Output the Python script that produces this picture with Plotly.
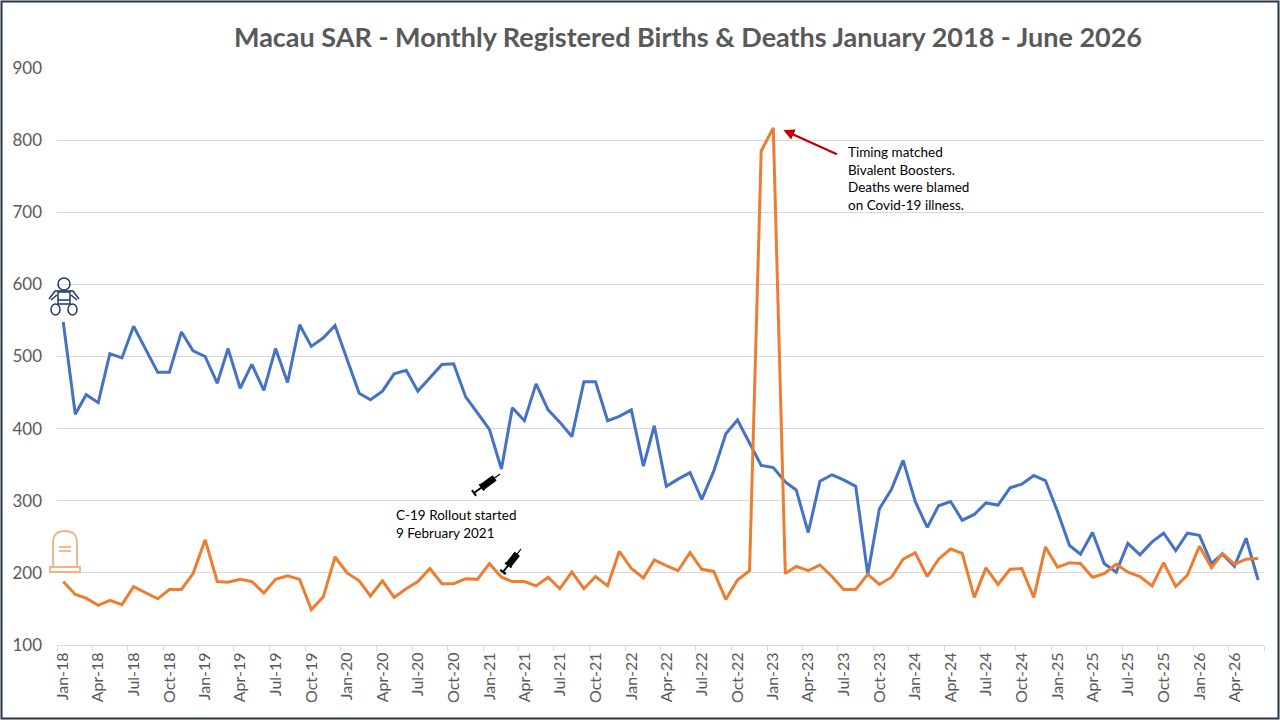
import math
import pandas as pd
import plotly.graph_objects as go

# Monthly registered births and deaths, Jan 2018 - Jun 2026
months = pd.date_range("2018-01-01", periods=102, freq="MS")

births = [
    548, 420, 447, 436, 504, 498, 542, 509, 478, 478, 534, 508,   # 2018
    500, 463, 511, 456, 489, 453, 511, 464, 544, 514, 526, 543,   # 2019
    497, 449, 440, 452, 476, 481, 452, 470, 489, 490, 444, 422,   # 2020
    399, 344, 429, 411, 462, 426, 409, 389, 465, 465, 411, 417,   # 2021
    426, 348, 404, 320, 330, 339, 302, 341, 393, 412, 381, 349,   # 2022
    346, 326, 315, 256, 327, 336, 329, 320, 198, 289, 316, 356,   # 2023
    299, 263, 293, 299, 273, 281, 297, 294, 318, 323, 335, 328,   # 2024
    285, 238, 226, 256, 213, 201, 241, 225, 243, 255, 231, 255,   # 2025
    252, 213, 226, 209, 248, 190,                                 # 2026
]

deaths = [
    188, 170, 165, 155, 162, 156, 181, 173, 164, 177, 177, 199,
    246, 188, 187, 191, 188, 172, 191, 196, 191, 149, 167, 222,
    200, 189, 168, 189, 166, 178, 188, 206, 185, 185, 192, 191,
    213, 194, 188, 188, 182, 194, 178, 201, 178, 195, 182, 230,
    206, 193, 218, 210, 203, 228, 205, 202, 163, 190, 203, 785,
    817, 199, 209, 203, 211, 195, 177, 177, 198, 184, 194, 219,
    228, 195, 219, 233, 227, 166, 207, 184, 205, 206, 166, 236,
    208, 214, 213, 194, 199, 212, 201, 195, 182, 214, 181, 197,
    237, 207, 227, 212, 219, 220,
]

BLUE = "#4472c4"
ORANGE = "#ed7d31"
GREY = "#595959"
FONT = "Lato"

W, H = 1280, 720
L, R, T, B = 57, 16, 68, 75
PW, PH = W - L - R, H - T - B


def px(x):
    return (x - L) / PW


def py(y):
    return (H - B - y) / PH


def path(points, close=False):
    s = " ".join(("M" if i == 0 else "L") + f" {px(x):.5f} {py(y):.5f}"
                 for i, (x, y) in enumerate(points))
    return s + (" Z" if close else "")


def paper_shape(**kw):
    base = dict(xref="paper", yref="paper", layer="above")
    base.update(kw)
    return base


def syringe(x0, y0, x1, y1):
    # little syringe drawn from plunger end (x0, y0) to needle tip (x1, y1)
    dx, dy = x1 - x0, y1 - y0
    ln = math.hypot(dx, dy)
    ux, uy = dx / ln, dy / ln
    nx, ny = -uy, ux

    def at(t, off=0.0):
        return (x0 + ux * ln * t + nx * off, y0 + uy * ln * t + ny * off)

    out = []
    k = dict(line=dict(color="black", width=2))
    out.append(paper_shape(type="path", path=path([at(0, -3.5), at(0, 3.5)]), **k))
    out.append(paper_shape(type="path", path=path([at(0), at(0.3)]), **k))
    out.append(paper_shape(type="path", path=path([at(0.3, -4), at(0.3, 4)]), **k))
    out.append(paper_shape(type="path",
                           path=path([at(0.32, -3), at(0.78, -3), at(0.78, 3), at(0.32, 3)], close=True),
                           fillcolor="black", line=dict(color="black", width=1)))
    out.append(paper_shape(type="path", path=path([at(0.78), at(1.0)]),
                           line=dict(color="black", width=1.2)))
    return out


fig = go.Figure()

fig.add_trace(go.Scatter(x=months, y=births, mode="lines", name="Births",
                         line=dict(color=BLUE, width=3)))
fig.add_trace(go.Scatter(x=months, y=deaths, mode="lines", name="Deaths",
                         line=dict(color=ORANGE, width=3)))

shapes = []
# chart border
shapes.append(paper_shape(type="rect", x0=px(1.5), x1=px(1278.5), y0=py(718.5), y1=py(1.5),
                          line=dict(color="#243444", width=2)))

# baby icon
navy = "#203864"
bk = dict(line=dict(color=navy, width=1.5))
shapes.append(paper_shape(type="circle", x0=px(58), x1=px(70), y0=py(290), y1=py(278), **bk))
shapes.append(paper_shape(type="path", path=path([(49, 299), (55, 291), (73, 291), (79, 299)]), **bk))
shapes.append(paper_shape(type="path", path=path([(51, 300), (57, 295)]), **bk))
shapes.append(paper_shape(type="path", path=path([(77, 300), (71, 295)]), **bk))
shapes.append(paper_shape(type="rect", x0=px(58), x1=px(70), y0=py(304), y1=py(292), **bk))
shapes.append(paper_shape(type="path", path=path([(58, 300), (70, 300)]), **bk))
shapes.append(paper_shape(type="circle", x0=px(51), x1=px(60), y0=py(315), y1=py(304), **bk))
shapes.append(paper_shape(type="circle", x0=px(68), x1=px(77), y0=py(315), y1=py(304), **bk))

# tombstone icon
tomb = dict(line=dict(color="#f4b183", width=1.8))
arch = (f"M {px(53):.5f} {py(567):.5f} L {px(53):.5f} {py(543):.5f} "
        f"Q {px(53):.5f} {py(531):.5f} {px(65):.5f} {py(531):.5f} "
        f"Q {px(77):.5f} {py(531):.5f} {px(77):.5f} {py(543):.5f} "
        f"L {px(77):.5f} {py(567):.5f}")
shapes.append(paper_shape(type="path", path=arch, **tomb))
shapes.append(paper_shape(type="rect", x0=px(50), x1=px(80), y0=py(572), y1=py(567), **tomb))
shapes.append(paper_shape(type="path", path=path([(59, 547), (71, 547)]), **tomb))
shapes.append(paper_shape(type="path", path=path([(59, 551), (71, 551)]), **tomb))

# syringes
shapes += syringe(474, 493, 500, 474)
shapes += syringe(503, 572, 521, 549)

annotations = [
    dict(x="2023-01-27", y=814, xref="x", yref="y", text="", showarrow=True,
         axref="pixel", ayref="pixel", ax=55, ay=25,
         arrowhead=2, arrowsize=1, arrowwidth=2.2, arrowcolor="#c00000"),
    dict(x=px(846), y=py(142), xref="paper", yref="paper", xanchor="left", yanchor="top",
         align="left", showarrow=False,
         text="Timing matched<br>Bivalent Boosters.<br>Deaths were blamed<br>on Covid-19 illness.",
         font=dict(family=FONT, size=13.5, color="black")),
    dict(x=px(394), y=py(505), xref="paper", yref="paper", xanchor="left", yanchor="top",
         align="left", showarrow=False,
         text="C-19 Rollout started<br>9 February 2021",
         font=dict(family=FONT, size=13.5, color="black")),
]

fig.update_layout(
    width=W, height=H,
    margin=dict(l=L, r=R, t=T, b=B),
    paper_bgcolor="white", plot_bgcolor="white",
    showlegend=False,
    title=dict(text="<b>Macau SAR - Monthly Registered Births & Deaths January 2018 - June 2026</b>",
               x=px(688), xanchor="center", xref="paper",
               y=1 - 38 / H, yanchor="middle",
               font=dict(family=FONT, size=27, color=GREY)),
    xaxis=dict(
        type="date",
        range=["2017-12-16", "2026-06-16"],
        tick0="2018-01-01", dtick="M3", tickformat="%b-%y",
        tickangle=-90, ticks="",
        tickfont=dict(family=FONT, size=16, color=GREY),
        showgrid=False, zeroline=False,
        showline=True, linecolor="#d9d9d9", linewidth=1,
        minor=dict(ticks="outside", ticklen=5, tickcolor="#d9d9d9",
                   tick0="2017-12-16", dtick="M3", showgrid=False),
    ),
    yaxis=dict(
        range=[100, 900], dtick=100,
        showgrid=True, gridcolor="#d9d9d9", gridwidth=1,
        zeroline=False, showline=False, ticks="",
        ticklabelstandoff=14,
        tickfont=dict(family=FONT, size=17, color=GREY),
    ),
    shapes=shapes,
    annotations=annotations,
)

fig.write_html("out.html", config={"displayModeBar": False},
               post_script="document.body.style.margin='0';")
